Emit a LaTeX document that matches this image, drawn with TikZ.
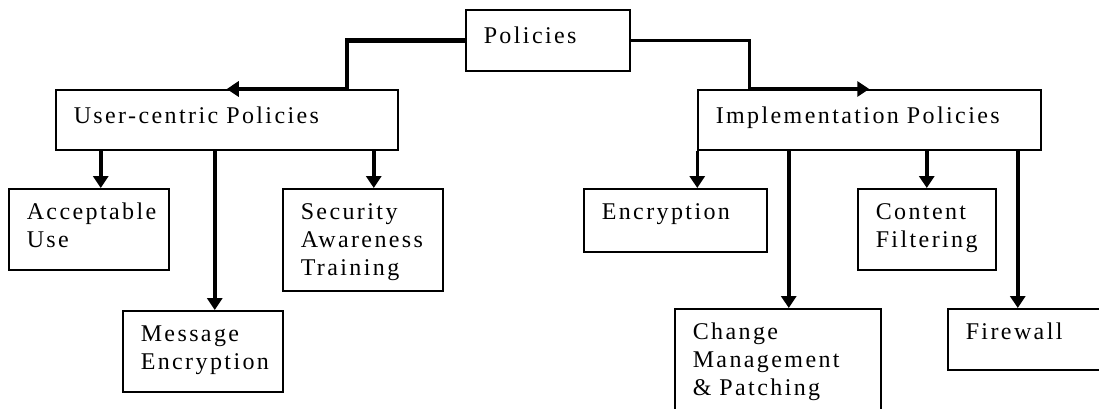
\documentclass[tikz,border=0pt]{standalone}
\usepackage{fontspec}
\newfontfamily\polfont{Liberation Serif}[LetterSpace=10]
\newcommand\boxfont{\polfont\fontsize{24}{28}\selectfont\hyphenpenalty=10000\relax}
\usetikzlibrary{arrows.meta}

\begin{document}
\begin{tikzpicture}[
    x=1pt, y=-1pt,
    box/.style={draw, line width=1.5pt, anchor=north west, inner xsep=18pt, inner ysep=0pt,
        align=left, font=\boxfont},
    topbox/.style={box, text height=34pt},
    leafbox/.style={box, text height=31pt},
    conn/.style={line width=3.5pt, -{Triangle[width=15pt,length=12pt]}}
]
\useasboundingbox (0,0) rectangle (1099,408);
\clip (0,0) rectangle (1099,408);

% Top level
\node[topbox, text width=128pt, text depth=27pt] (pol) at (465,9) {Policies};
\node[topbox, text width=306pt, text depth=26pt] (user) at (55,89) {User-centric Policies};
\node[topbox, text width=307pt, text depth=26pt] (impl) at (697,89) {Implementation Policies};

% User-centric policies
\node[leafbox, text width=124pt, text depth=50pt] (acc) at (8,188) {Acceptable\\Use};
\node[leafbox, text width=124pt, text depth=50pt] (msg) at (122,310) {Message\\Encryption};
\node[leafbox, text width=124pt, text depth=71pt] (sec) at (282,188) {Security\\Awareness\\Training};

% Implementation policies
\node[leafbox, text width=147pt, text depth=32pt] (enc) at (583,188) {Encryption};
\node[leafbox, text width=170pt, text depth=99pt] (chg) at (674,308) {Change\\Management\\\& Patching};
\node[leafbox, text width=102pt, text depth=50pt] (cont) at (857,188) {Content\\Filtering};
\node[leafbox, text width=144pt, text depth=30pt] (fire) at (947,308) {Firewall};

% Top connectors
\draw[conn, line width=4.5pt] (pol.west) -| ([xshift=120pt]user.north) -- (user.north);
\draw[conn] (pol.east) -| ([xshift=-120pt]impl.north) -- (impl.north);

% Child arrows
\draw[conn] ([xshift=12pt]acc.north |- user.south) -- ([xshift=12pt]acc.north);
\draw[conn] ([xshift=12pt]msg.north |- user.south) -- ([xshift=12pt]msg.north);
\draw[conn] ([xshift=11pt]sec.north |- user.south) -- ([xshift=11pt]sec.north);
\draw[conn] ([xshift=22pt]enc.north |- impl.south) -- ([xshift=22pt]enc.north);
\draw[conn] ([xshift=11pt]chg.north |- impl.south) -- ([xshift=11pt]chg.north);
\draw[conn] (cont.north |- impl.south) -- (cont.north);
\draw[conn] ([xshift=-20pt]fire.north |- impl.south) -- ([xshift=-20pt]fire.north);

\end{tikzpicture}
\end{document}
